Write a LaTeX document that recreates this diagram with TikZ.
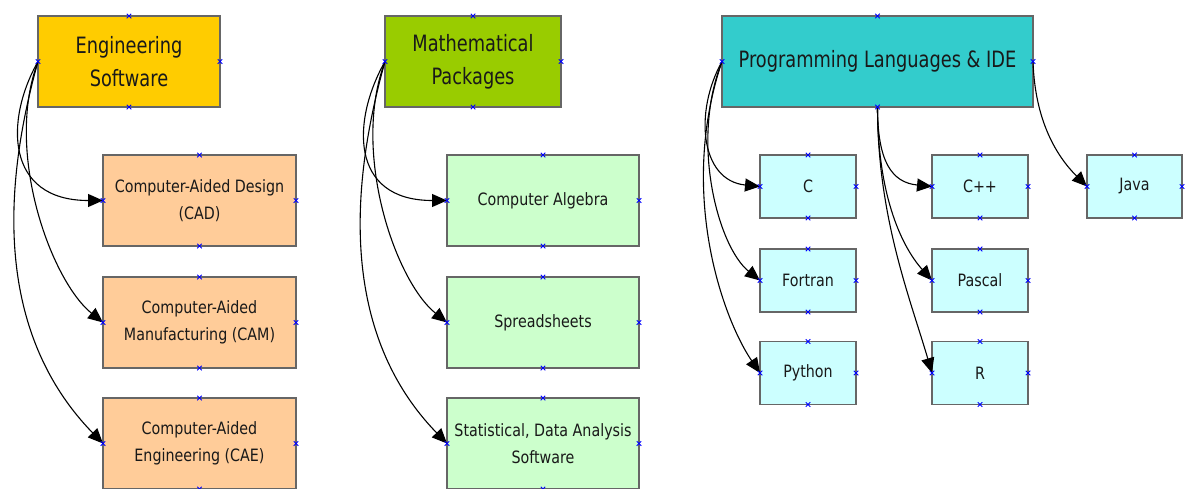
\documentclass[tikz,border=0pt]{standalone}
\usepackage{fontspec}
\setmainfont{DejaVu Sans}[FakeStretch=0.84]
\newfontfamily\headfont{DejaVu Sans}[FakeStretch=0.79]
\usetikzlibrary{arrows.meta,shapes.misc}
\definecolor{engfill}{HTML}{FFCC00}
\definecolor{engkid}{HTML}{FFCC99}
\definecolor{mathfill}{HTML}{99CC00}
\definecolor{mathkid}{HTML}{CCFFCC}
\definecolor{progfill}{HTML}{33CCCC}
\definecolor{progkid}{HTML}{CCFFFF}
\definecolor{boxline}{HTML}{666666}
\tikzset{
  box/.style={draw=boxline,line width=1.5pt,rectangle,inner sep=0pt,outer sep=0pt,align=center,text=black!90},
  headbox/.style={box,minimum height=91pt,font=\headfont\fontsize{22.5}{33}\selectfont},
  kidbig/.style={box,minimum width=193pt,minimum height=91pt,font=\fontsize{17}{27}\selectfont},
  kidsmall/.style={box,minimum width=96pt,minimum height=63pt,fill=progkid,font=\fontsize{17}{27}\selectfont},
  xmark/.style={cross out,draw=blue,line width=0.8pt,minimum size=4.5pt,inner sep=0pt,outer sep=0pt},
  link/.style={draw=black,line width=1.1pt,-{Triangle[length=15pt,width=13pt]}},
}
\begin{document}
\begin{tikzpicture}[x=1pt,y=-1pt]
\useasboundingbox (0,0) rectangle (1187,488);
% heads
\node[headbox,fill=engfill,minimum width=182pt] (es) at (129,61.5) {Engineering\\Software};
\node[headbox,fill=mathfill,minimum width=176pt] (mp) at (473,61.5) {Mathematical\\Packages};
\node[headbox,fill=progfill,minimum width=311pt] (pl) at (877.5,61.5) {Programming Languages \& IDE};
% engineering children
\node[kidbig,fill=engkid] (cad) at (199.5,200.5) {Computer-Aided Design\\(CAD)};
\node[kidbig,fill=engkid] (cam) at (199.5,322.5) {Computer-Aided\\Manufacturing (CAM)};
\node[kidbig,fill=engkid] (cae) at (199.5,443.5) {Computer-Aided\\Engineering (CAE)};
% math children
\node[kidbig,fill=mathkid,minimum width=192pt] (ca) at (543,200.5) {Computer Algebra};
\node[kidbig,fill=mathkid,minimum width=192pt] (ss) at (543,322.5) {Spreadsheets};
\node[kidbig,fill=mathkid,minimum width=192pt] (st) at (543,443.5) {Statistical, Data Analysis\\Software};
% programming children
\node[kidsmall] (c) at (808,186.5) {C};
\node[kidsmall] (cpp) at (980,186.5) {C++};
\node[kidsmall,minimum width=95pt] (java) at (1134.5,186.5) {Java};
\node[kidsmall] (fortran) at (808,280.5) {Fortran};
\node[kidsmall] (pascal) at (980,280.5) {Pascal};
\node[kidsmall] (python) at (808,373) {Python};
\node[kidsmall] (r) at (980,373) {R};
% connectors
\draw[link] (es.west) .. controls +(-33,58) and +(-98,0) .. (cad.west);
\draw[link] (es.west) .. controls +(-34,90) and +(-52,-42) .. (cam.west);
\draw[link] (es.west) .. controls +(-56,200) and +(-70,-72) .. (cae.west);
\draw[link] (mp.west) .. controls +(-33,58) and +(-98,0) .. (ca.west);
\draw[link] (mp.west) .. controls +(-34,90) and +(-52,-42) .. (ss.west);
\draw[link] (mp.west) .. controls +(-56,200) and +(-70,-72) .. (st.west);
\draw[link] (pl.west) .. controls +(-28,50) and +(-60,-6) .. (c.west);
\draw[link] (pl.west) .. controls +(-32,80) and +(-42,-34) .. (fortran.west);
\draw[link] (pl.west) .. controls +(-44,130) and +(-38,-56) .. (python.west);
\draw[link] (pl.south) .. controls +(0,55) and +(-40,-4) .. (cpp.west);
\draw[link] (pl.south) .. controls +(0,85) and +(-32,-36) .. (pascal.west);
\draw[link] (pl.south) .. controls +(0,110) and +(-22,-75) .. (r.west);
\draw[link] (pl.east) .. controls +(2,60) and +(-30,-30) .. (java.west);
% blue anchor marks
\foreach \n in {es,mp,pl,cad,cam,cae,ca,ss,st,c,cpp,java,fortran,pascal,python,r}{
  \foreach \a in {north,south,east,west}{
    \node[xmark] at (\n.\a) {};
  }
}
\end{tikzpicture}
\end{document}
